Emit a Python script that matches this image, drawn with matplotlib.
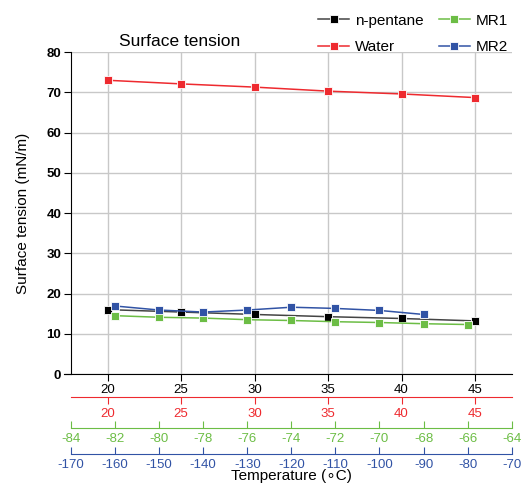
import numpy as np
import matplotlib
matplotlib.use('Agg')
import matplotlib.pyplot as plt

plt.rcParams['font.family'] = ['Liberation Sans', 'DejaVu Sans']
plt.rcParams['axes.unicode_minus'] = False

# data
temp_c = [20, 25, 30, 35, 40, 45]
pentane = [16.0, 15.4, 14.8, 14.25, 13.8, 13.2]
water = [73.0, 72.1, 71.3, 70.3, 69.6, 68.7]
mr1_t = [-82, -80, -78, -76, -74, -72, -70, -68, -66]
mr1 = [14.5, 14.1, 13.9, 13.5, 13.3, 13.0, 12.8, 12.5, 12.3]
mr2_t = [-160, -150, -140, -130, -120, -110, -100, -90]
mr2 = [16.9, 15.9, 15.4, 15.9, 16.6, 16.3, 15.8, 14.8]

black_ticks = [20, 25, 30, 35, 40, 45]
green_ticks = list(range(-84, -63, 2))
blue_ticks = list(range(-170, -69, 10))
y_ticks = list(range(0, 81, 10))

RED = '#ee2a2f'
GREEN = '#6cbd45'
BLUE = '#3153a5'
GRID = '#c8c8c8'

fig = plt.figure(figsize=(5.27, 4.87), dpi=100)
ax = fig.add_axes([0.1347, 0.232, 0.8363, 0.661])

ax.set_xlim(17.5, 47.5)
ax.set_ylim(0, 80)
ax.set_xticks(black_ticks)
ax.set_yticks(y_ticks)
ax.grid(True, color=GRID, linewidth=1.0)
ax.set_axisbelow(True)
for s in ['top', 'right']:
    ax.spines[s].set_visible(False)
ax.spines['bottom'].set_bounds(17.02, 47.5)
ax.tick_params(axis='x', direction='out', length=5, pad=2, labelsize=9.5)
ax.tick_params(axis='y', direction='out', length=5, pad=2, labelsize=9.5)
for lab in ax.get_yticklabels():
    lab.set_fontweight('bold')
ax.set_ylabel('Surface tension (mN/m)', fontsize=11, labelpad=12)

mk = dict(marker='s', markersize=5.5, markeredgecolor='white', markeredgewidth=0.6)

l_pent, = ax.plot(temp_c, pentane, color='#444444', lw=1.1, markerfacecolor='black',
                  label='n-pentane', **mk)


def extra_axis(lo, hi, ticks, offset_px, color, direction):
    # extra x axis below the plot, offset given in pixels
    t = ax.twiny()
    t.set_xlim(lo, hi)
    t.set_xticks(ticks)
    t.xaxis.set_ticks_position('bottom')
    t.xaxis.set_label_position('bottom')
    for s in ['top', 'right', 'left']:
        t.spines[s].set_visible(False)
    t.spines['bottom'].set_position(('outward', offset_px * 0.72))
    t.spines['bottom'].set_color(color)
    t.tick_params(axis='x', direction=direction, length=5, color=color,
                  labelcolor=color, labelsize=9.5, pad=3 if direction == 'out' else 3.5)
    return t


axr = extra_axis(17.5, 47.5, black_ticks, 23, RED, 'out')
axg = extra_axis(-84, -64, green_ticks, 54, GREEN, 'in')
axb = extra_axis(-170, -70, blue_ticks, 80, BLUE, 'in')

l_water, = axr.plot(temp_c, water, color=RED, lw=1.1, markerfacecolor=RED,
                    label='Water', **mk)
l_mr1, = axg.plot(mr1_t, mr1, color=GREEN, lw=1.1, markerfacecolor=GREEN,
                  label='MR1', **mk)
l_mr2, = axb.plot(mr2_t, mr2, color=BLUE, lw=1.1, markerfacecolor=BLUE,
                  label='MR2', **mk)
axb.set_xlabel('Temperature (\u2218C)', fontsize=11, labelpad=-1)

fig.text(180 / 527, 1 - 42 / 487, 'Surface tension', ha='center', va='center', fontsize=12.5)

fig.legend(handles=[l_pent, l_water, l_mr1, l_mr2], ncol=2, frameon=False,
           loc='upper right', bbox_to_anchor=(0.99, 1.0), fontsize=11,
           handlelength=2.0, handletextpad=0.4, columnspacing=1.0, labelspacing=0.8)

fig.savefig('out.png', dpi=100)
